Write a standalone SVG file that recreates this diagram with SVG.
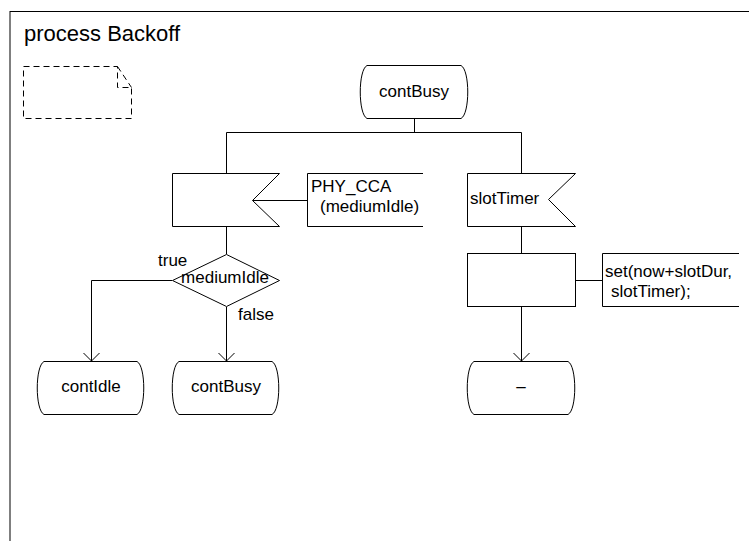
<svg xmlns="http://www.w3.org/2000/svg" width="749" height="541" viewBox="0 0 749 541">
  <defs>
    <style>
      .shape { fill: #ffffff; stroke: #000000; stroke-width: 1; }
      .line { fill: none; stroke: #000000; stroke-width: 1; }
      .note { fill: none; stroke: #000000; stroke-width: 1; stroke-dasharray: 6 4; }
      text { font-family: "Liberation Sans", Arial, sans-serif; font-size: 17px; fill: #000000; }
      .mid { text-anchor: middle; }
      .title { font-size: 22px; }
    </style>
    <marker id="arrow" markerUnits="userSpaceOnUse" markerWidth="20" markerHeight="20" refX="0" refY="0" orient="auto" overflow="visible">
      <path d="M -8 -8 L 0 0 L -8 8" fill="none" stroke="#000000" stroke-width="1"/>
    </marker>
  </defs>

  <rect fill="#ffffff" x="0" y="0" width="749" height="541"/>

  <!-- process frame -->
  <g id="frame">
    <rect class="line" x="10" y="11.5" width="800" height="600"/>
    <text class="title" x="24" y="41">process Backoff</text>
  </g>

  <!-- empty text symbol with folded corner -->
  <g id="declarations">
    <path class="note" d="M 23.5 66.5 H 117.5 V 87.5 H 131.5 V 118.5 H 23.5 Z"/>
    <path class="note" d="M 117.5 66.5 L 131.5 87.5"/>
  </g>

  <!-- connectors -->
  <g id="connectors">
    <path class="line" d="M 414.5 119 V 132.5"/>
    <path class="line" d="M 226.5 173 V 132.5 H 521.5 V 173"/>
    <path class="line" d="M 252 200.5 H 307"/>
    <path class="line" d="M 226.5 227 V 254"/>
    <path class="line" d="M 172 280.5 H 91.5 V 361" marker-end="url(#arrow)"/>
    <path class="line" d="M 226.5 307 V 361" marker-end="url(#arrow)"/>
    <path class="line" d="M 521.5 227 V 253"/>
    <path class="line" d="M 575 280.5 H 602"/>
    <path class="line" d="M 521.5 307 V 361" marker-end="url(#arrow)"/>
  </g>

  <!-- start state -->
  <g id="state-contBusy-top">
    <path class="shape" d="M 367 65.5 H 461 C 470 70 470 114 461 118.5 H 367 C 358 114 358 70 367 65.5 Z"/>
    <text class="mid" x="414" y="97">contBusy</text>
  </g>

  <!-- input PHY_CCA -->
  <g id="input-PHY_CCA">
    <polygon class="shape" points="172.5,173.5 279.5,173.5 252.5,200.5 279.5,226.5 172.5,226.5"/>
  </g>
  <g id="comment-PHY_CCA">
    <path class="line" d="M 423 173.5 H 307.5 V 226.5 H 423"/>
    <text x="311" y="192">PHY_CCA</text>
    <text x="320" y="212">(mediumIdle)</text>
  </g>

  <!-- decision -->
  <g id="decision-mediumIdle">
    <polygon class="shape" points="226.5,254.5 279.5,280.5 226.5,306.5 172.5,280.5"/>
    <text class="mid" x="225" y="283">mediumIdle</text>
    <text x="158" y="266">true</text>
    <text x="238" y="320">false</text>
  </g>

  <!-- next states -->
  <g id="state-contIdle">
    <path class="shape" d="M 44 361.5 H 137 C 146 366 146 410 137 414.5 H 44 C 35 410 35 366 44 361.5 Z"/>
    <text class="mid" x="91" y="392">contIdle</text>
  </g>
  <g id="state-contBusy">
    <path class="shape" d="M 179 361.5 H 272 C 281 366 281 410 272 414.5 H 179 C 170 410 170 366 179 361.5 Z"/>
    <text class="mid" x="226" y="392">contBusy</text>
  </g>

  <!-- input slotTimer -->
  <g id="input-slotTimer">
    <polygon class="shape" points="467.5,173.5 575.5,173.5 548.5,199.5 575.5,226.5 467.5,226.5"/>
    <text x="470" y="204">slotTimer</text>
  </g>

  <!-- task -->
  <g id="task-set">
    <rect class="shape" x="467.5" y="253.5" width="108" height="53"/>
  </g>
  <g id="comment-set">
    <path class="line" d="M 739 253.5 H 602.5 V 306.5 H 739"/>
    <text x="605" y="277">set(now+slotDur,</text>
    <text x="611" y="297">slotTimer);</text>
  </g>

  <!-- dash nextstate -->
  <g id="state-dash">
    <path class="shape" d="M 474 361.5 H 568 C 577 366 577 410 568 414.5 H 474 C 465 410 465 366 474 361.5 Z"/>
    <text class="mid" x="521" y="392">–</text>
  </g>
</svg>
